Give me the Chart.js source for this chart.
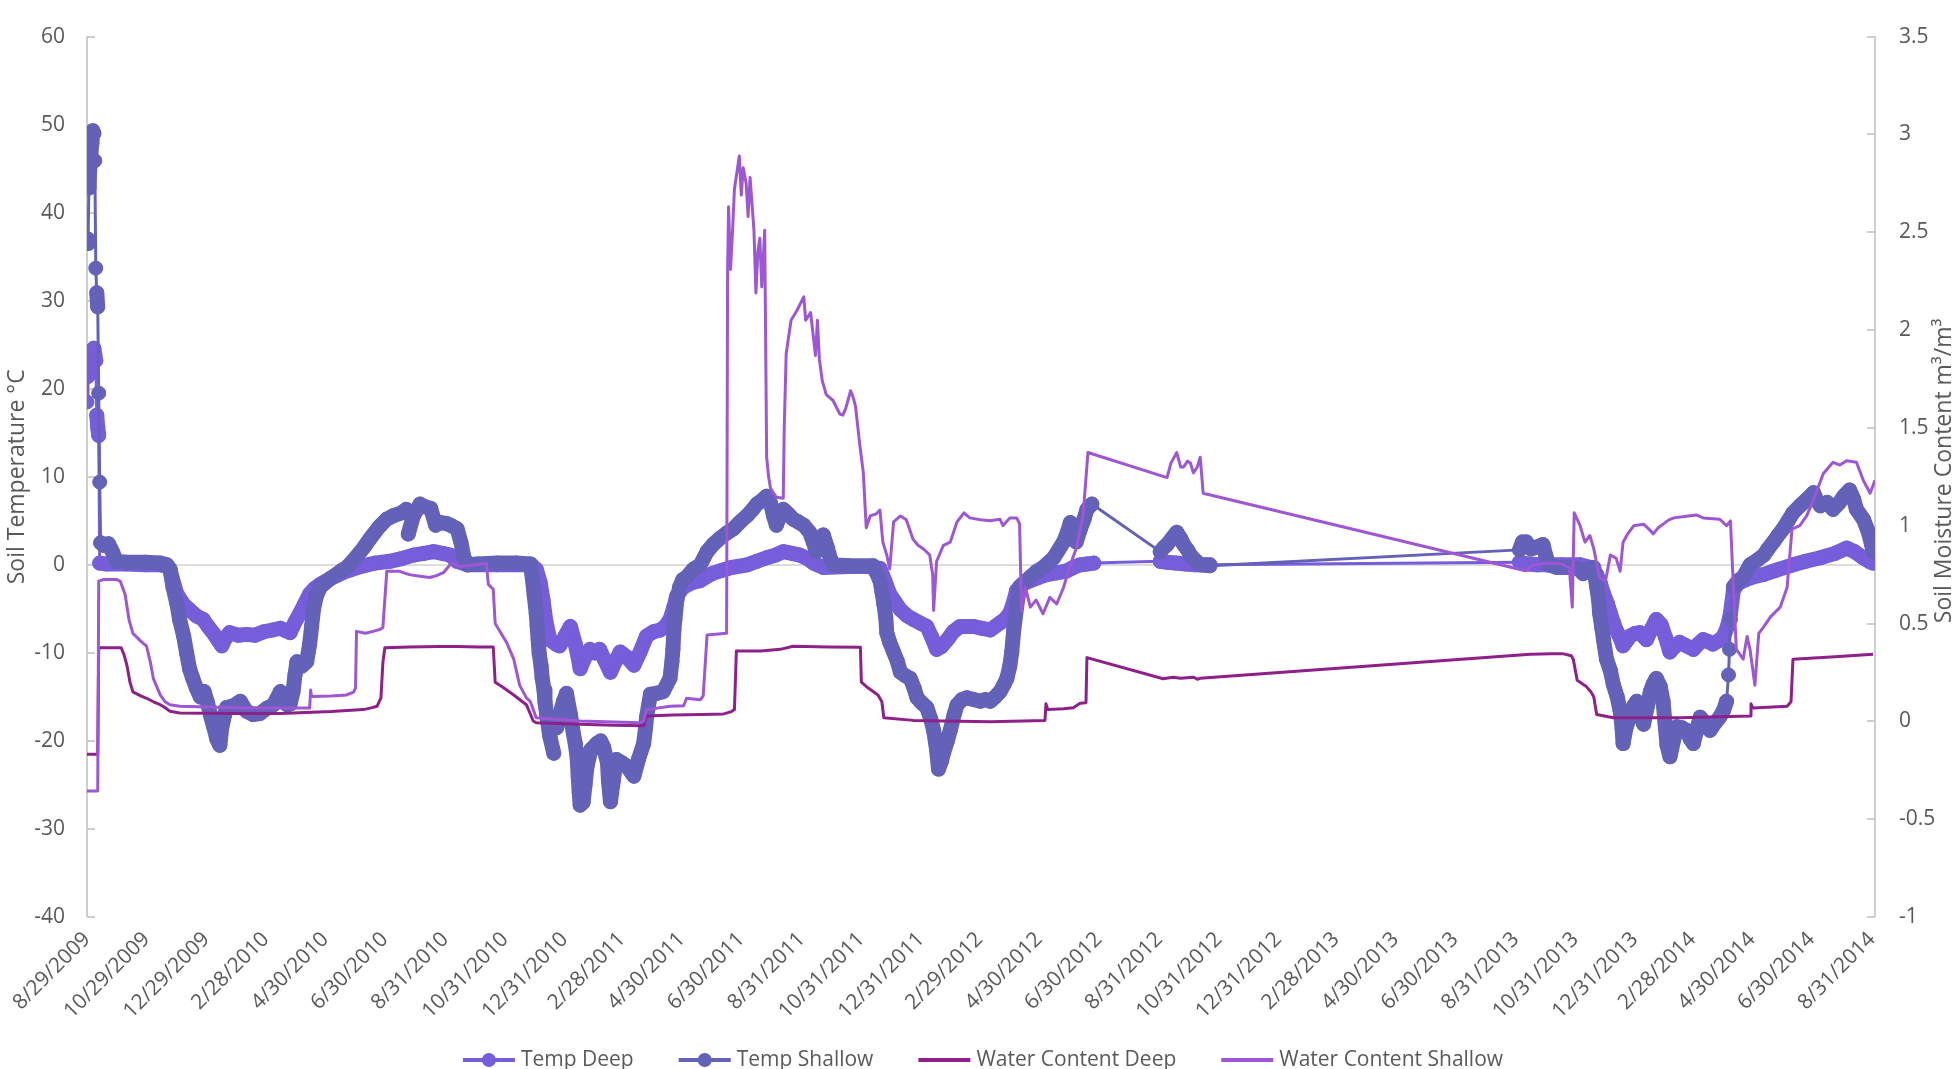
<!DOCTYPE html>
<html>
<head>
<meta charset="utf-8">
<title>Soil Temperature and Moisture</title>
<script src="https://cdn.jsdelivr.net/npm/chart.js@4.4.1/dist/chart.umd.min.js"></script>
<style>
    html, body { margin: 0; padding: 0; background: #fff; overflow: hidden; }
    #wrap { width: 1959px; height: 1069px; }
</style>
</head>
<body>
<div id="wrap"><canvas id="myChart" width="1959" height="1069"></canvas></div>
<script>
var tickLabels = ['8/29/2009', '10/29/2009', '12/29/2009', '2/28/2010', '4/30/2010', '6/30/2010',
    '8/31/2010', '10/31/2010', '12/31/2010', '2/28/2011', '4/30/2011', '6/30/2011', '8/31/2011',
    '10/31/2011', '12/31/2011', '2/29/2012', '4/30/2012', '6/30/2012', '8/31/2012', '10/31/2012',
    '12/31/2012', '2/28/2013', '4/30/2013', '6/30/2013', '8/31/2013', '10/31/2013', '12/31/2013',
    '2/28/2014', '4/30/2014', '6/30/2014', '8/31/2014'];
var xMax = 1831; // last reading, in days after 8/29/2009

// readings as [days after 8/29/2009, value]
var tempDeep = [[0,18.5],[1,21.4],[3,22.8],[5,24.3],[7,24.6],[9,23.2],[10,17.0],[11,15.6],[12,14.7],[13,0.2],
    [20,0.1],[40,0.1],[60,0.0],[75,0.0],[82,-0.2],[85,-0.5],[88,-1.8],[92,-3.3],[99,-4.5],[105,-5.1],[112,-5.8],
    [119,-6.2],[124,-7.0],[129,-7.7],[134,-8.5],[138,-9.2],[142,-8.3],[146,-7.7],[155,-8.0],[163,-7.9],[172,-8.0],
    [181,-7.6],[190,-7.4],[198,-7.2],[204,-7.5],[208,-7.7],[213,-6.5],[218,-5.5],[223,-4.4],[228,-3.3],[233,-2.7],
    [239,-2.2],[250,-1.5],[266,-0.7],[280,-0.2],[295,0.2],[310,0.4],[322,0.7],[334,1.1],[345,1.3],[355,1.5],
    [364,1.3],[372,1.1],[379,0.4],[390,0.0],[420,0.0],[455,0.0],[460,-0.5],[464,-2.0],[467,-4.0],[470,-6.5],
    [474,-8.5],[480,-9.0],[484,-9.2],[490,-8.0],[495,-7.0],[500,-9.0],[503,-10.5],[505,-11.8],[510,-10.5],
    [515,-9.6],[520,-10.0],[525,-9.6],[530,-10.8],[536,-12.2],[541,-11.0],[546,-9.9],[553,-10.5],[560,-11.4],
    [566,-10.0],[573,-8.1],[580,-7.6],[587,-7.4],[592,-7.0],[597,-6.2],[601,-4.8],[604,-3.5],[610,-2.6],
    [620,-2.0],[628,-1.8],[640,-1.0],[648,-0.7],[660,-0.3],[676,0.0],[686,0.4],[696,0.8],[705,1.1],[713,1.5],
    [722,1.3],[730,1.1],[738,0.7],[744,0.2],[754,-0.3],[780,-0.2],[800,-0.2],[812,-0.4],[817,-1.8],[822,-3.3],
    [828,-4.3],[833,-5.1],[840,-5.8],[846,-6.2],[853,-6.6],[860,-7.0],[865,-8.2],[870,-9.6],[875,-9.3],
    [881,-8.5],[887,-7.6],[894,-7.0],[901,-7.0],[908,-7.0],[916,-7.2],[925,-7.4],[935,-6.6],[940,-6.2],
    [945,-5.5],[949,-4.2],[952,-2.9],[958,-2.2],[966,-1.8],[975,-1.4],[983,-1.1],[993,-0.9],[1003,-0.7],
    [1010,-0.3],[1017,0.0],[1024,0.1],[1031,0.2],
    [1099,0.4],[1106,0.3],[1115,0.2],[1125,0.1],[1135,0.0],[1145,0.0],[1150,0.0],
    [1467,0.3],[1475,0.1],[1485,0.0],[1495,0.0],[1510,0.0],[1529,0.0],[1540,-0.3],[1546,-1.1],[1550,-2.2],
    [1553,-3.3],[1557,-4.4],[1560,-5.5],[1563,-6.5],[1566,-7.4],[1570,-8.3],[1573,-9.2],[1577,-8.6],[1580,-8.1],
    [1585,-7.8],[1590,-7.7],[1597,-8.5],[1602,-7.3],[1607,-6.2],[1612,-6.8],[1617,-8.4],[1621,-9.9],[1626,-9.3],
    [1631,-8.8],[1638,-9.2],[1645,-9.6],[1650,-9.0],[1655,-8.5],[1660,-8.7],[1665,-9.0],[1671,-8.6],[1676,-8.1],
    [1680,-7.0],[1683,-5.5],[1686,-2.9],[1690,-2.2],[1696,-1.8],[1705,-1.4],[1717,-1.1],[1730,-0.6],[1747,0.0],
    [1760,0.4],[1775,0.8],[1790,1.3],[1802,1.9],[1810,1.5],[1819,0.8],[1825,0.4],[1829,0.2]];

var tempShallow = [[0,37.0],[1,36.5],[2,42.8],[3,45.5],[4,46.8],[5,47.9],[6,49.3],[7,49.0],[8,45.9],[9,33.7],
    [10,30.9],[11,29.3],[12,19.5],[13,9.4],[14,2.5],[18,2.2],[22,2.4],[26,1.5],[30,0.4],[40,0.3],[60,0.3],[75,0.2],
    [82,0.0],[85,-0.5],[88,-2.5],[92,-4.4],[95,-6.3],[99,-8.1],[102,-10.0],[105,-11.8],[108,-12.8],[112,-14.0],
    [116,-15.0],[120,-14.4],[123,-15.5],[127,-17.3],[130,-18.5],[133,-19.8],[136,-20.5],[138,-18.5],[141,-17.0],
    [143,-16.2],[150,-16.0],[157,-15.5],[163,-16.6],[170,-17.0],[177,-16.9],[184,-16.3],[191,-15.9],[198,-14.4],
    [202,-15.0],[205,-15.9],[208,-15.8],[211,-14.4],[213,-12.5],[215,-11.0],[220,-11.5],[225,-11.0],[228,-9.0],
    [230,-7.0],[232,-5.0],[235,-3.5],[239,-2.5],[250,-1.5],[260,-0.7],[266,-0.3],[275,0.8],[283,1.9],[290,3.0],
    [299,4.3],[307,5.2],[314,5.6],[322,5.9],[327,6.3],[329,3.5],[334,5.5],[341,6.9],[346,6.6],[352,6.4],[357,4.5],
    [362,4.8],[368,4.7],[374,4.4],[379,4.1],[383,2.5],[386,0.8],[390,0.0],[400,0.1],[420,0.2],[440,0.2],[454,0.1],
    [456,-1.5],[458,-3.5],[460,-5.5],[461,-7.0],[462,-8.5],[463,-10.0],[465,-11.5],[466,-12.8],[468,-14.2],
    [469,-15.6],[471,-17.3],[474,-19.5],[478,-21.4],[481,-18.5],[484,-17.0],[488,-15.5],[491,-14.6],[495,-17.0],
    [498,-19.1],[500,-20.3],[502,-22.0],[503,-24.0],[504,-25.8],[505,-27.3],[508,-27.0],[510,-25.0],[512,-22.9],
    [516,-21.0],[522,-20.3],[526,-20.0],[529,-20.7],[533,-22.5],[534,-24.5],[536,-26.9],[539,-24.5],[542,-22.1],
    [548,-22.5],[553,-22.9],[557,-23.5],[560,-24.0],[565,-22.0],[570,-20.3],[572,-18.5],[573,-17.3],[575,-16.0],
    [577,-14.7],[583,-14.6],[590,-14.4],[597,-12.9],[599,-11.0],[600,-9.6],[601,-7.4],[602,-6.2],[604,-4.0],
    [607,-2.5],[610,-1.7],[614,-1.4],[621,-0.5],[628,0.0],[635,1.5],[641,2.3],[648,3.0],[655,3.6],[662,4.1],
    [669,4.9],[676,5.6],[681,6.2],[686,6.9],[691,7.3],[696,7.8],[700,7.0],[703,5.6],[706,4.5],[709,5.4],[713,6.3],
    [718,5.8],[723,5.2],[728,4.9],[734,4.5],[740,3.7],[744,2.5],[747,1.5],[751,2.6],[754,3.4],[758,2.0],[761,0.8],
    [764,0.0],[780,-0.1],[805,-0.1],[808,-0.8],[812,-1.8],[814,-3.0],[816,-4.4],[818,-6.0],[819,-7.7],[822,-8.8],
    [826,-9.9],[830,-11.0],[833,-12.2],[838,-12.6],[843,-12.9],[847,-14.0],[850,-15.1],[855,-15.7],[860,-16.2],
    [864,-17.5],[867,-18.8],[870,-21.0],[872,-23.2],[875,-22.3],[877,-21.4],[881,-20.0],[884,-18.8],[888,-17.0],
    [891,-15.9],[896,-15.3],[901,-15.1],[908,-15.3],[915,-15.5],[920,-15.3],[925,-15.5],[930,-15.0],[935,-14.4],
    [939,-13.6],[942,-12.9],[945,-11.5],[947,-9.9],[949,-7.4],[952,-4.8],[955,-2.5],[960,-2.0],[966,-1.4],
    [972,-0.8],[979,-0.3],[985,0.3],[990,0.8],[995,1.7],[1000,2.6],[1004,3.7],[1007,4.8],[1010,3.7],[1013,2.6],
    [1017,4.0],[1021,5.2],[1024,6.3],[1029,6.9],
    [1099,1.5],[1103,2.0],[1106,2.3],[1111,3.0],[1116,3.7],[1120,3.0],[1123,2.3],[1127,1.7],[1130,1.1],[1135,0.5],
    [1140,0.0],[1150,-0.1],
    [1467,1.7],[1470,2.6],[1474,2.6],[1479,1.8],[1484,2.0],[1491,2.3],[1494,1.0],[1497,0.0],[1505,-0.3],
    [1520,-0.3],[1528,-0.5],[1532,-1.0],[1538,-0.4],[1543,-0.3],[1546,-2.5],[1548,-4.0],[1549,-5.5],[1551,-7.0],
    [1553,-8.5],[1556,-10.7],[1560,-12.0],[1563,-13.6],[1567,-15.0],[1570,-16.6],[1572,-18.5],[1573,-20.3],
    [1576,-18.5],[1580,-17.3],[1584,-16.0],[1587,-15.5],[1591,-16.5],[1594,-18.1],[1598,-16.0],[1601,-14.4],
    [1604,-13.5],[1607,-12.9],[1611,-13.8],[1614,-15.5],[1616,-18.0],[1618,-20.5],[1621,-21.8],[1625,-19.8],
    [1628,-18.4],[1633,-18.5],[1638,-18.8],[1642,-19.8],[1645,-20.3],[1649,-18.5],[1652,-17.3],[1657,-18.0],
    [1662,-18.8],[1667,-18.0],[1672,-17.3],[1676,-16.5],[1679,-15.5],[1681,-12.5],[1682,-9.6],[1683,-6.2],
    [1686,-2.5],[1691,-1.8],[1696,-1.4],[1703,0.0],[1710,0.5],[1717,1.1],[1722,1.9],[1727,2.6],[1732,3.4],
    [1737,4.1],[1742,5.0],[1747,5.9],[1754,6.7],[1761,7.4],[1768,8.2],[1772,7.2],[1775,6.7],[1782,7.1],[1788,6.3],
    [1794,7.0],[1799,7.8],[1805,8.5],[1809,7.5],[1812,6.3],[1819,5.2],[1824,3.8],[1826,3.0],[1829,1.5],[1831,2.6]];

var waterDeep = [[0,-0.168],[11,-0.168],[12,0.376],[20,0.376],[35,0.376],[38,0.34],[41,0.284],[44,0.2],
    [47,0.151],[55,0.13],[61,0.118],[68,0.1],[75,0.085],[80,0.07],[85,0.052],[95,0.043],[150,0.04],[198,0.04],
    [250,0.05],[283,0.06],[292,0.07],[297,0.077],[301,0.12],[303,0.3],[305,0.376],[330,0.38],[360,0.382],
    [380,0.383],[400,0.38],[416,0.38],[418,0.2],[427,0.17],[437,0.135],[450,0.085],[457,0.002],[460,-0.007],
    [505,-0.015],[540,-0.02],[570,-0.023],[573,0.027],[600,0.032],[630,0.035],[652,0.038],[660,0.05],[663,0.06],
    [665,0.36],[690,0.36],[710,0.368],[723,0.384],[760,0.38],[792,0.379],[793,0.2],[800,0.17],[810,0.135],
    [814,0.1],[816,0.018],[846,0.005],[925,-0.002],[981,0.005],[982,0.09],[984,0.06],[1000,0.065],[1010,0.07],
    [1017,0.093],[1023,0.095],[1024,0.326],[1102,0.218],[1112,0.225],[1120,0.22],[1133,0.226],[1137,0.215],
    [1140,0.22],[1478,0.343],[1500,0.345],[1512,0.345],[1520,0.335],[1522,0.318],[1526,0.21],[1535,0.18],
    [1540,0.151],[1543,0.126],[1546,0.035],[1563,0.018],[1631,0.018],[1703,0.027],[1704,0.09],[1706,0.068],
    [1741,0.077],[1745,0.1],[1747,0.318],[1790,0.33],[1829,0.343]];

var waterShallow = [[0,-0.356],[11,-0.356],[12,0.717],[17,0.725],[30,0.725],[34,0.717],[39,0.65],[43,0.52],
    [47,0.45],[55,0.41],[61,0.384],[65,0.3],[68,0.218],[75,0.135],[80,0.1],[85,0.085],[95,0.077],[163,0.068],
    [228,0.068],[229,0.16],[230,0.127],[250,0.13],[266,0.135],[273,0.15],[275,0.17],[276,0.46],[285,0.45],
    [293,0.46],[300,0.47],[303,0.48],[307,0.767],[320,0.767],[330,0.75],[341,0.742],[351,0.735],[358,0.745],
    [365,0.76],[373,0.808],[382,0.792],[399,0.8],[409,0.808],[411,0.70],[416,0.675],[418,0.5],[424,0.45],
    [430,0.4],[437,0.318],[443,0.185],[450,0.12],[454,0.101],[460,0.018],[505,0.002],[566,-0.007],[570,0.0],
    [573,0.06],[597,0.077],[611,0.08],[614,0.118],[628,0.11],[631,0.13],[635,0.442],[655,0.45],[656,2.3],
    [657,2.63],[659,2.31],[661,2.5],[663,2.72],[668,2.89],[670,2.69],[672,2.83],[675,2.75],[677,2.58],[679,2.78],
    [683,2.51],[685,2.19],[687,2.4],[689,2.47],[691,2.22],[694,2.51],[696,1.35],[698,1.25],[700,1.19],
    [706,1.145],[713,1.14],[714,1.5],[716,1.88],[721,2.05],[727,2.1],[734,2.17],[736,2.05],[741,2.09],[746,1.87],
    [748,2.05],[750,1.85],[753,1.74],[757,1.67],[764,1.64],[771,1.57],[774,1.565],[777,1.6],[782,1.69],
    [785,1.65],[787,1.61],[791,1.43],[795,1.27],[797,1.08],[798,0.99],[802,1.05],[808,1.06],[812,1.08],
    [815,0.916],[819,0.85],[822,0.78],[824,0.9],[826,1.02],[833,1.05],[839,1.03],[846,0.93],[851,0.90],
    [857,0.88],[863,0.85],[866,0.75],[867,0.567],[870,0.817],[877,0.9],[884,0.916],[891,1.02],[898,1.066],
    [904,1.04],[915,1.03],[925,1.025],[935,1.033],[938,1.0],[945,1.04],[952,1.04],[955,1.01],[957,0.567],
    [961,0.684],[966,0.584],[972,0.62],[979,0.55],[986,0.634],[993,0.6],[1000,0.684],[1007,0.8],[1013,0.883],
    [1020,1.05],[1025,1.374],[1106,1.246],[1110,1.32],[1116,1.374],[1120,1.3],[1123,1.3],[1127,1.33],
    [1130,1.32],[1133,1.27],[1137,1.3],[1140,1.35],[1143,1.166],[1473,0.77],[1481,0.8],[1495,0.808],
    [1510,0.805],[1518,0.783],[1521,0.584],[1523,1.066],[1529,1.0],[1534,0.916],[1539,0.95],[1543,0.883],
    [1549,0.733],[1555,0.716],[1560,0.85],[1566,0.833],[1570,0.767],[1573,0.916],[1578,0.96],[1584,1.0],
    [1594,1.008],[1600,0.98],[1604,0.958],[1609,0.99],[1614,1.008],[1620,1.03],[1625,1.04],[1638,1.048],
    [1648,1.055],[1655,1.04],[1672,1.033],[1679,1.0],[1683,1.025],[1686,0.684],[1689,0.368],[1696,0.318],
    [1700,0.434],[1703,0.368],[1708,0.185],[1712,0.45],[1717,0.483],[1724,0.534],[1734,0.584],[1741,0.684],
    [1746,0.983],[1754,1.0],[1761,1.05],[1768,1.133],[1778,1.266],[1788,1.324],[1795,1.31],[1802,1.332],
    [1812,1.324],[1819,1.232],[1826,1.166],[1831,1.232]];

var textColor = '#595959';
var fontFamily = "'Open Sans', 'Noto Sans', sans-serif";

function dayOf(label) {
    var p = label.split('/');
    return Math.round((Date.UTC(+p[2], +p[0] - 1, +p[1]) - Date.UTC(2009, 7, 29)) / 864e5);
}
var tickDays = tickLabels.map(dayOf);

function toPoints(rows) {
    return rows.map(function (r) { return { x: r[0], y: r[1] }; });
}

// closely spaced readings merge into a fat band of markers, jumps and gaps stay a thin line
function bandWidth(ctx) {
    var dx = Math.abs(ctx.p1.x - ctx.p0.x);
    var dy = Math.abs(ctx.p1.y - ctx.p0.y);
    return (dx < 50 && dy < 24) ? 15 : 3;
}

function tempSeries(label, rows, color, order) {
    return {
        label: label,
        data: toPoints(rows),
        yAxisID: 'y',
        order: order,
        borderColor: color,
        backgroundColor: color,
        borderWidth: 3,
        borderCapStyle: 'round',
        borderJoinStyle: 'round',
        pointRadius: 7,
        pointBorderWidth: 1,
        pointBackgroundColor: color,
        pointBorderColor: color,
        segment: { borderWidth: bandWidth },
        fill: false,
        tension: 0
    };
}

function waterSeries(label, rows, color, order) {
    return {
        label: label,
        data: toPoints(rows),
        yAxisID: 'y1',
        order: order,
        borderColor: color,
        backgroundColor: color,
        borderWidth: 3,
        borderJoinStyle: 'round',
        pointRadius: 0,
        fill: false,
        tension: 0
    };
}

var chartData = {
    datasets: [
        tempSeries('Temp Deep', tempDeep, '#765EDA', 4),
        tempSeries('Temp Shallow', tempShallow, '#6461B9', 3),
        waterSeries('Water Content Deep', waterDeep, '#8E2089', 2),
        waterSeries('Water Content Shallow', waterShallow, '#9D57D4', 1)
    ]
};

var framePlugin = {
    id: 'frame',
    beforeDatasetsDraw: function (chart) {
        var ctx = chart.ctx;
        var a = chart.chartArea;
        var y = chart.scales.y;
        var y1 = chart.scales.y1;
        ctx.save();
        ctx.lineWidth = 1.5;
        ctx.strokeStyle = '#BFBFBF';
        ctx.beginPath();
        ctx.moveTo(a.left, a.top);
        ctx.lineTo(a.left, a.bottom);
        ctx.moveTo(a.right, a.top);
        ctx.lineTo(a.right, a.bottom);
        y.ticks.forEach(function (t) {
            var py = Math.round(y.getPixelForValue(t.value));
            ctx.moveTo(a.left, py);
            ctx.lineTo(a.left + 8, py);
        });
        y1.ticks.forEach(function (t) {
            var py = Math.round(y1.getPixelForValue(t.value));
            ctx.moveTo(a.right, py);
            ctx.lineTo(a.right - 8, py);
        });
        ctx.stroke();
        // horizontal axis crosses at 0 degrees
        var zero = Math.round(y.getPixelForValue(0));
        ctx.strokeStyle = '#D0D0D0';
        ctx.beginPath();
        ctx.moveTo(a.left, zero);
        ctx.lineTo(a.right, zero);
        ctx.stroke();
        ctx.restore();
    },
    afterDraw: function (chart) {
        var ctx = chart.ctx;
        var a = chart.chartArea;
        ctx.save();
        ctx.fillStyle = textColor;
        ctx.textAlign = 'center';
        ctx.textBaseline = 'middle';
        ctx.font = '23px ' + fontFamily;

        ctx.save();
        ctx.translate(17, (a.top + a.bottom) / 2);
        ctx.rotate(-Math.PI / 2);
        ctx.fillText('Soil Temperature °C', 0, 0);
        ctx.restore();

        ctx.save();
        ctx.translate(1944, (a.top + a.bottom) / 2 - 6);
        ctx.rotate(-Math.PI / 2);
        ctx.fillText('Soil Moisture Content m³/m³', 0, 0);
        ctx.restore();

        // legend: line sample, marker for the temperature series, then the name
        ctx.font = '21px ' + fontFamily;
        ctx.textAlign = 'left';
        var sample = 52, gap = 6, spacing = 45, legendY = 1060;
        var items = chart.data.datasets.map(function (ds) {
            return { ds: ds, w: ctx.measureText(ds.label).width };
        });
        var total = items.reduce(function (sum, it) { return sum + sample + gap + it.w; }, 0) + spacing * (items.length - 1);
        var x = 983 - total / 2;
        items.forEach(function (it) {
            ctx.strokeStyle = it.ds.borderColor;
            ctx.lineWidth = 4;
            ctx.beginPath();
            ctx.moveTo(x, legendY);
            ctx.lineTo(x + sample, legendY);
            ctx.stroke();
            if (it.ds.pointRadius > 0) {
                ctx.fillStyle = it.ds.borderColor;
                ctx.beginPath();
                ctx.arc(x + sample / 2, legendY, 7, 0, Math.PI * 2);
                ctx.fill();
            }
            ctx.fillStyle = textColor;
            ctx.fillText(it.ds.label, x + sample + gap, legendY);
            x += sample + gap + it.w + spacing;
        });
        ctx.restore();
    }
};

var chartOptions = {
    responsive: false,
    animation: false,
    devicePixelRatio: 1,
    layout: { padding: { top: 15, left: 0, right: 0, bottom: 0 } },
    plugins: {
        legend: { display: false },
        tooltip: { enabled: false }
    },
    scales: {
        x: {
            type: 'linear',
            min: 0,
            max: xMax,
            grid: { display: false, drawTicks: false },
            border: { display: false },
            afterBuildTicks: function (scale) {
                scale.ticks = tickDays.map(function (d) { return { value: d }; });
            },
            ticks: {
                autoSkip: false,
                minRotation: 45,
                maxRotation: 45,
                padding: 10,
                color: textColor,
                font: { family: fontFamily, size: 21 },
                callback: function (value, index) {
                    return tickLabels[index];
                }
            },
            afterFit: function (scale) {
                scale.height = 152;
            }
        },
        y: {
            type: 'linear',
            position: 'left',
            min: -40,
            max: 60,
            grid: { display: false, drawTicks: false },
            border: { display: false },
            ticks: { stepSize: 10, padding: 22, color: textColor, font: { family: fontFamily, size: 21 } },
            afterFit: function (scale) {
                scale.width = 87;
            }
        },
        y1: {
            type: 'linear',
            position: 'right',
            min: -1,
            max: 3.5,
            grid: { display: false, drawTicks: false },
            border: { display: false },
            ticks: {
                stepSize: 0.5,
                padding: 24,
                color: textColor,
                font: { family: fontFamily, size: 21 },
                callback: function (value) {
                    return String(value);
                }
            },
            afterFit: function (scale) {
                scale.width = 84;
            }
        }
    }
};

var ctx = document.getElementById('myChart').getContext('2d');
var myChart = new Chart(ctx, {
    type: 'line',
    data: chartData,
    options: chartOptions,
    plugins: [framePlugin]
});
</script>
</body>
</html>
